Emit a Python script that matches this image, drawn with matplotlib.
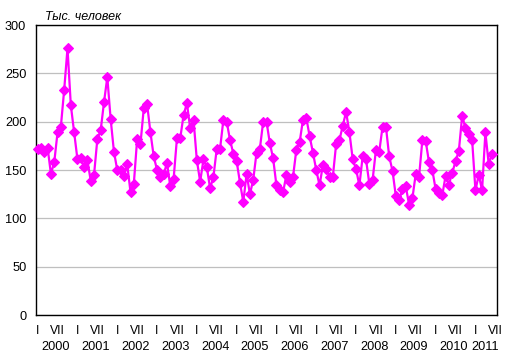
import numpy as np
import matplotlib
matplotlib.use("Agg")
import matplotlib.pyplot as plt
import matplotlib.transforms as mtransforms

plt.rcParams['font.family'] = ['Liberation Sans', 'DejaVu Sans']

years = ['2000', '2001', '2002', '2003', '2004', '2005', '2006', '2007',
         '2008', '2009', '2010', '2011']
month_labels = ['I', 'VII']

v2000 = [172, 173, 169, 173, 146, 158, 189, 195, 233, 276, 217, 189]
v2001 = [161, 162, 153, 160, 139, 145, 182, 191, 220, 246, 203, 169]
v2002 = [150, 150, 144, 156, 127, 136, 182, 177, 214, 218, 189, 164]
v2003 = [150, 143, 146, 157, 133, 141, 183, 183, 207, 219, 193, 202]
v2004 = [160, 138, 161, 153, 131, 143, 172, 172, 202, 200, 181, 167]
v2005 = [159, 137, 117, 146, 125, 140, 168, 172, 200, 200, 178, 162]
v2006 = [134, 129, 127, 145, 138, 143, 171, 179, 202, 204, 185, 168]
v2007 = [150, 134, 155, 151, 143, 143, 177, 181, 196, 210, 189, 161]
v2008 = [151, 134, 164, 161, 136, 140, 171, 169, 195, 195, 164, 149]
v2009 = [123, 119, 130, 133, 114, 121, 146, 143, 181, 180, 158, 150]
v2010 = [130, 126, 124, 144, 135, 147, 159, 170, 206, 193, 187, 181]
v2011 = [129, 145, 129, 189, 156, 167]

values = (v2000 + v2001 + v2002 + v2003 + v2004 + v2005 + v2006 + v2007
          + v2008 + v2009 + v2010 + v2011)
n_categories = 139  # Jan 2000 .. Jul 2011

fig = plt.figure(figsize=(5.13, 3.64), dpi=100)
ax = fig.add_axes([36/513, 1-315/364, (497-36)/513, (315-25)/364])

x = np.arange(len(values))
ax.plot(x, values, color='#FF00FF', linewidth=1.6, marker='D',
        markersize=4.8, markeredgewidth=0.8, markeredgecolor='#FF00FF',
        markerfacecolor='#FF00FF', zorder=3, clip_on=False)

ax.set_xlim(-0.5, n_categories - 0.5)
ax.set_ylim(0, 300)
ax.set_yticks(np.arange(0, 301, 50))
ax.yaxis.grid(True, color='#BFBFBF', linewidth=0.9)
ax.set_axisbelow(True)

tick_pos = np.arange(0, n_categories, 6)
ax.set_xticks(tick_pos)
ax.set_xticklabels([month_labels[k % 2] for k in range(len(tick_pos))])
ax.tick_params(axis='x', length=0, pad=7, labelsize=8.8)
ax.tick_params(axis='y', length=0, pad=7, labelsize=9.2)

trans = mtransforms.blended_transform_factory(ax.transData, ax.transAxes)
for k, yr in enumerate(years):
    start = 12 * k
    end = min(12 * k + 11, n_categories - 1)
    ax.text((start + end) / 2, -0.11, yr, transform=trans, ha='center',
            va='center', fontsize=9.2)

for s in ax.spines.values():
    s.set_color('black')
    s.set_linewidth(1.0)

fig.text(45/513, 1-17/364, 'Тыс. человек', fontstyle='italic', fontsize=9,
         ha='left', va='center')

fig.savefig('out.png', dpi=100)
